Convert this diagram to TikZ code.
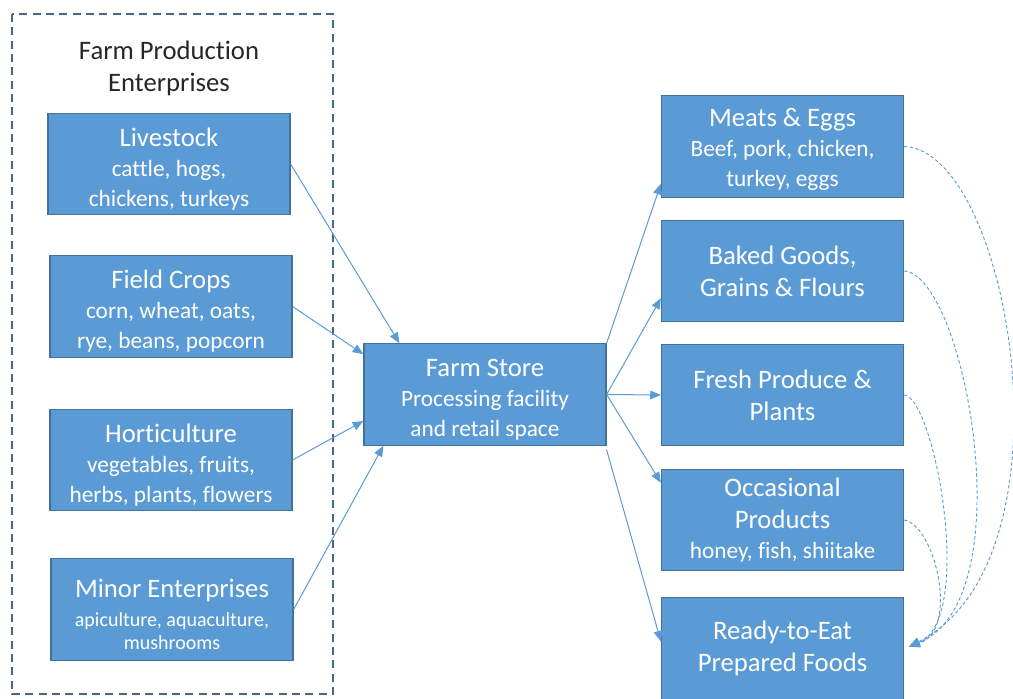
\documentclass[tikz,border=0pt]{standalone}
\usepackage{fontspec}
\setmainfont{Carlito}[Ligatures=NoCommon]
\usetikzlibrary{arrows.meta,calc}
\definecolor{boxfill}{HTML}{5B9BD5}
\definecolor{boxborder}{HTML}{41719C}
\definecolor{frameclr}{HTML}{4A6585}
\definecolor{titleclr}{HTML}{262626}
\newcommand{\ttl}[1]{{\fontsize{20}{22.5}\selectfont\rule{0pt}{21pt}#1}}
\tikzset{
  box/.style={draw=boxborder, fill=boxfill, text=white, line width=0.9pt,
    minimum width=181.5pt, minimum height=76pt, inner sep=0pt, align=center,
    font=\fontsize{17.5}{22.5}\selectfont},
  link/.style={draw=boxfill, line width=0.75pt, -{Triangle[length=8pt,width=6.5pt]}},
  loop/.style={draw=boxfill, line width=0.7pt, dash pattern=on 2.5pt off 1.8pt,
    -{Triangle[length=8pt,width=6.5pt]}},
  frame/.style={draw=frameclr, line width=1.1pt, dash pattern=on 6pt off 4pt}
}
\begin{document}
\begin{tikzpicture}[x=0.75pt,y=-0.75pt]
\useasboundingbox (0,0) rectangle (1013,699);
\draw[frame] (12,14) rectangle (333,694);
\node[text=titleclr, align=center, font=\fontsize{20}{24}\selectfont] (title) at (169,68) {Farm Production\\Enterprises};

\node[box] (liv) at (169,164) {\ttl{Livestock}\\cattle, hogs,\\chickens, turkeys};
\node[box] (fc) at (171,306.5) {\ttl{Field Crops}\\corn, wheat, oats,\\rye, beans, popcorn};
\node[box] (hort) at (171,460) {\ttl{Horticulture}\\vegetables, fruits,\\herbs, plants, flowers};
\node[box, font=\fontsize{15}{17}\selectfont] (minor) at (172,609.5) {{\fontsize{20}{24}\selectfont\rule{0pt}{21pt}Minor Enterprises}\\[5pt]apiculture, aquaculture,\\mushrooms};

\node[box] (store) at (485,394.5) {\ttl{Farm Store}\\Processing facility\\and retail space};

\node[box] (meats) at (782.5,146.5) {{\fontsize{20}{22.5}\selectfont\rule{0pt}{18pt}Meats \& Eggs}\\Beef, pork, chicken,\\turkey, eggs};
\node[box, font=\fontsize{20}{24}\selectfont] (baked) at (782.5,271) {Baked Goods,\\Grains \& Flours};
\node[box, font=\fontsize{20}{24}\selectfont] (fresh) at (782.5,395) {Fresh Produce \&\\Plants};
\node[box] (occ) at (782.5,520) {{\fontsize{20}{24}\selectfont Occasional}\\[1.5pt]{\fontsize{20}{24}\selectfont Products}\\honey, fish, shiitake};
\node[box, font=\fontsize{20}{24.5}\selectfont] (ready) at (782.5,648.5) {Ready-to-Eat\\Prepared Foods};

% inputs
\draw[link] (liv.east) -- ($(store.north west)+(36,0)$);
\draw[link] (fc.east) -- ($(store.north west)+(0,11)$);
\draw[link] (hort.east) -- ($(store.west)+(0,26.5)$);
\draw[link] (minor.east) -- ($(store.south west)+(20,0)$);

% outputs
\draw[link] (store.north east) -- ($(meats.south west)+(0,-14)$);
\draw[link] (store.east) -- ($(baked.south west)+(0,-24)$);
\draw[link] (store.east) -- (fresh.west);
\draw[link] (store.east) -- ($(occ.north west)+(0,14)$);
\draw[link] ($(store.south east)+(0,4)$) -- ($(ready.west)+(0,-7)$);

% dashed feedback curves
\coordinate (rt) at ($(ready.east)+(5,-2)$);
\draw[loop] (meats.east) .. controls (1010,150) and (1080,560) .. (rt);
\draw[loop] (baked.east) .. controls (965,275) and (1025,600) .. (rt);
\draw[loop] (fresh.east) .. controls (935,398) and (975,620) .. (rt);
\draw[loop] (occ.east) .. controls (935,525) and (960,630) .. (rt);
\end{tikzpicture}
\end{document}
